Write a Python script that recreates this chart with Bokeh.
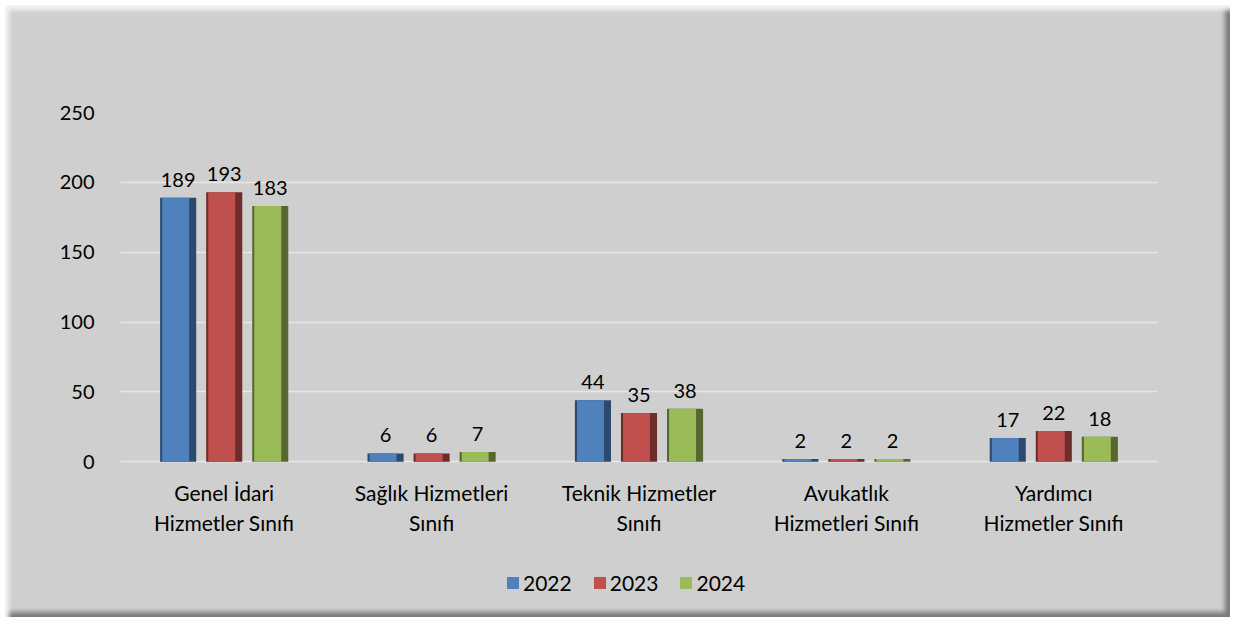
from bokeh.plotting import figure
from bokeh.models import ColumnDataSource, FactorRange, Legend, LegendItem
from bokeh.transform import dodge
from bokeh.core.properties import value
from bokeh.embed import file_html
from bokeh.resources import INLINE

categories = ["Genel İdari Hizmetler Sınıfı", "Sağlık Hizmetleri Sınıfı",
              "Teknik Hizmetler Sınıfı", "Avukatlık Hizmetleri Sınıfı",
              "Yardımcı Hizmetler Sınıfı"]
label_line1 = ["Genel İdari", "Sağlık Hizmetleri", "Teknik Hizmetler",
               "Avukatlık", "Yardımcı"]
label_line2 = ["Hizmetler Sınıfı", "Sınıfı", "Sınıfı",
               "Hizmetleri Sınıfı", "Hizmetler Sınıfı"]
years = ["2022", "2023", "2024"]
v2022 = [189, 6, 44, 2, 17]
v2023 = [193, 6, 35, 2, 22]
v2024 = [183, 7, 38, 2, 18]
y_ticks = [0, 50, 100, 150, 200, 250]

main_colors = ["#4f81bd", "#c0504d", "#9bbb59"]
dark_colors = ["#2c4a6e", "#6e2c2a", "#56682f"]

FONT = "Lato"

src = ColumnDataSource(dict(cat=categories, v2022=v2022, v2023=v2023, v2024=v2024,
                            l2022=[str(v) for v in v2022],
                            l2023=[str(v) for v in v2023],
                            l2024=[str(v) for v in v2024],
                            line1=label_line1, line2=label_line2,
                            zero=[0] * len(categories)))

p = figure(x_range=FactorRange(*categories), y_range=(-100, 250),
           width=1225, height=612, output_backend="svg", toolbar_location=None,
           min_border_left=115, min_border_right=73, min_border_top=107,
           min_border_bottom=16)
p.margin = (5, 3, 4, 5)
p.styles = {"background-color": "#cfcfcf",
            "box-shadow": "inset 4px 5px 4px #f4f4f4, inset -5px -5px 5px #7a7a7a"}
p.border_fill_alpha = 0
p.background_fill_alpha = 0
p.outline_line_color = None

offsets = [-0.222, 0.0, 0.222]
items = []
for i, y in enumerate(years):
    col = "v" + y
    p.vbar(x=dodge("cat", offsets[i], range=p.x_range), top=col, bottom=0,
           width=0.174, source=src,
           fill_color=dark_colors[i], line_color=None)
    mid = p.vbar(x=dodge("cat", offsets[i] - 0.012, range=p.x_range), top=col, bottom=0,
                 width=0.13, source=src,
                 fill_color=main_colors[i], line_color=None)
    items.append(LegendItem(label=y, renderers=[mid]))
    p.text(x=dodge("cat", offsets[i], range=p.x_range), y=col, text="l" + y,
           source=src, text_align="center", text_baseline="alphabetic",
           y_offset=-18, text_font=value(FONT), text_font_size="20px",
           text_color="#000000")

for field, off in (("line1", 31), ("line2", 61)):
    p.text(x="cat", y="zero", text=field, source=src, text_align="center",
           text_baseline="middle", y_offset=off, text_font=value(FONT),
           text_font_size="21px", text_color="#000000")

p.xgrid.grid_line_color = None
p.ygrid.grid_line_color = "#e8e8e8"
p.ygrid.grid_line_width = 1.5
p.yaxis.ticker = y_ticks
p.yaxis.axis_line_color = None
p.yaxis.major_tick_line_color = None
p.yaxis.minor_tick_line_color = None
p.yaxis.major_label_standoff = 20
p.yaxis.major_label_text_font = FONT
p.yaxis.major_label_text_font_size = "20px"
p.yaxis.major_label_text_color = "#000000"
p.xaxis.visible = False

legend = Legend(items=items, orientation="horizontal", location=(385, 6),
                label_text_font=FONT, label_text_font_size="21px",
                label_text_color="#000000", glyph_width=15, glyph_height=15,
                spacing=20, label_standoff=3, background_fill_alpha=0,
                border_line_color=None, margin=0, padding=0)
p.add_layout(legend)

open("out.html", "w").write(file_html(p, INLINE))
